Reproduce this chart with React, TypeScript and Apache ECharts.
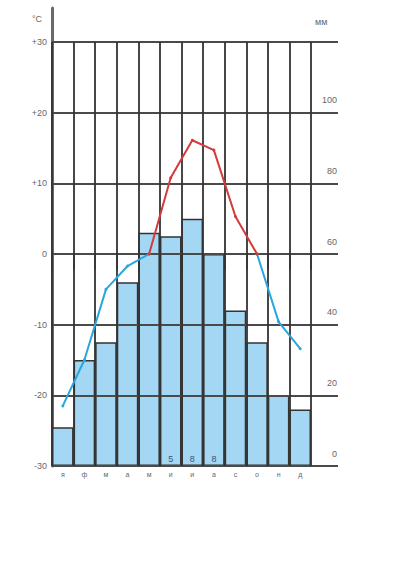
import React, { useEffect, useRef } from "react";
import * as echarts from "echarts";

const months = ["я", "ф", "м", "а", "м", "и", "и", "а", "с", "о", "н", "д"];
const precipitation = [11, 30, 35, 52, 66, 65, 70, 60, 44, 35, 20, 16];
const temperature = [-21.5, -15, -5, -1.7, 0, 10.8, 16.1, 14.7, 5.3, 0, -9.6, -13.4];
const barNotes = ["", "", "", "", "", "5", "8", "8", "", "", "", ""];
const tempTicks = [-30, -20, -10, 0, 10, 20, 30];
const precipTicks = [0, 20, 40, 60, 80, 100];
const tempUnit = "°C";
const precipUnit = "мм";

// split the temperature line into its warm (>= 0) and cold (<= 0) stretches;
// the curve meets 0 exactly at data points, so no interpolation is needed
const warm = temperature.map((v, i) => {
  const prev = temperature[i - 1];
  const next = temperature[i + 1];
  return v > 0 || (v === 0 && ((prev !== undefined && prev > 0) || (next !== undefined && next > 0))) ? v : null;
});
const cold = temperature.map((v, i) => {
  const prev = temperature[i - 1];
  const next = temperature[i + 1];
  return v < 0 || (v === 0 && ((prev !== undefined && prev < 0) || (next !== undefined && next < 0))) ? v : null;
});

export default function App() {
  const ref = useRef<HTMLDivElement>(null);
  useEffect(() => {
    if (!ref.current) return;
    const chart = echarts.init(ref.current, undefined, { renderer: "svg" });
    const gridLine = "#4a4a4a";
    const labelColor = "#666";
    chart.setOption({
      animation: false,
      backgroundColor: "#ffffff",
      textStyle: { fontFamily: "Liberation Sans, Arial, sans-serif" },
      grid: [
        { left: 52, top: 42, width: 259, height: 424 },
        { left: 52, top: 42, width: 286, height: 424 },
        { left: 52, top: 8, width: 10, height: 458 },
      ],
      graphic: [
        {
          type: "text",
          left: 32,
          top: 14,
          style: { text: tempUnit, fill: labelColor, fontSize: 9, fontFamily: "Liberation Sans, Arial, sans-serif" },
        },
        {
          type: "text",
          left: 315,
          top: 17,
          style: { text: precipUnit, fill: labelColor, fontSize: 9, fontFamily: "Liberation Sans, Arial, sans-serif" },
        },
      ],
      xAxis: [
        {
          gridIndex: 0,
          type: "category",
          data: months,
          boundaryGap: true,
          z: 3,
          axisLine: { show: false },
          axisTick: { show: true, length: 16, lineStyle: { color: "#333", width: 1.5 } },
          axisLabel: { color: labelColor, fontSize: 7, margin: 5 },
          splitLine: { show: true, lineStyle: { color: "#333", width: 1.8 } },
        },
        { gridIndex: 1, type: "value", min: 0, max: 1, show: false },
        { gridIndex: 2, type: "value", min: 0, max: 1, show: false },
      ],
      yAxis: [
        {
          gridIndex: 0,
          type: "value",
          min: tempTicks[0],
          max: tempTicks[tempTicks.length - 1],
          interval: 10,
          position: "left",
          axisLine: { show: false },
          axisTick: { show: false },
          splitLine: { show: false },
          axisLabel: {
            color: labelColor,
            fontSize: 9,
            margin: 5,
            formatter: (v: number) => (v > 0 ? "+" + v : String(v)),
          },
        },
        {
          gridIndex: 0,
          type: "value",
          min: 0,
          max: 120,
          interval: 20,
          show: false,
        },
        {
          gridIndex: 1,
          type: "value",
          min: 0,
          max: 120,
          interval: 20,
          position: "right",
          z: 3,
          axisLine: { show: false },
          axisTick: { show: false },
          splitLine: { show: true, lineStyle: { color: gridLine, width: 2 } },
          axisLabel: {
            inside: true,
            color: labelColor,
            fontSize: 9,
            margin: 1,
            verticalAlign: "bottom",
            padding: [0, 0, 8, 0],
            formatter: (v: number) => (precipTicks.indexOf(v) >= 0 ? String(v) : ""),
          },
        },
        {
          gridIndex: 2,
          type: "value",
          min: 0,
          max: 1,
          position: "left",
          axisLine: { show: true, lineStyle: { color: "#6a6a6a", width: 3 } },
          axisTick: { show: false },
          axisLabel: { show: false },
          splitLine: { show: false },
        },
      ],
      series: [
        {
          type: "bar",
          xAxisIndex: 0,
          yAxisIndex: 1,
          data: precipitation,
          barCategoryGap: "0%",
          z: 2,
          itemStyle: { color: "#a3d7f3", borderColor: "#333", borderWidth: 1.5 },
          label: {
            show: true,
            position: "insideBottom",
            distance: 3,
            color: "#3a5570",
            fontSize: 9,
            formatter: (p: any) => barNotes[p.dataIndex],
          },
        },
        {
          type: "line",
          xAxisIndex: 0,
          yAxisIndex: 0,
          data: cold,
          z: 5,
          symbol: "circle",
          symbolSize: 3,
          itemStyle: { color: "#2aa6dd" },
          lineStyle: { width: 2, color: "#2aa6dd" },
        },
        {
          type: "line",
          xAxisIndex: 0,
          yAxisIndex: 0,
          data: warm,
          z: 6,
          symbol: "circle",
          symbolSize: 3,
          itemStyle: { color: "#d33a3a" },
          lineStyle: { width: 2, color: "#d33a3a" },
        },
      ],
    });
    return () => chart.dispose();
  }, []);
  return (
    <div
      ref={ref}
      style={{ position: "absolute", left: 0, top: 0, width: 395, height: 561 }}
    />
  );
}
